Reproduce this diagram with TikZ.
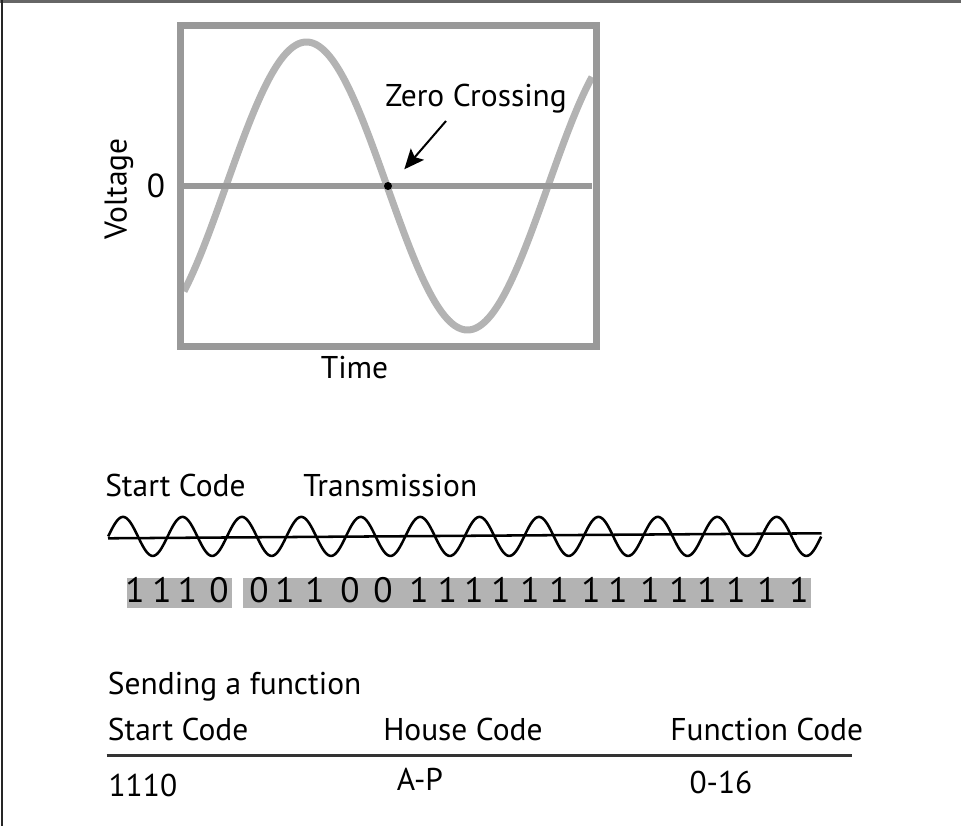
\documentclass[tikz,border=0pt]{standalone}
\usepackage{fontspec}
\setmainfont{PT Sans}
\usetikzlibrary{arrows.meta}
\definecolor{framegray}{HTML}{999999}
\definecolor{wavegray}{HTML}{B3B3B3}
\definecolor{bitgray}{HTML}{B3B3B3}
\tikzset{
  lbl/.style={inner sep=0pt, font=\fontsize{23.6}{28}\selectfont},
  bit/.style={inner sep=0pt, anchor=base, font=\fontsize{26.5}{30}\selectfont},
}
\begin{document}
\begin{tikzpicture}[x=0.75pt,y=-0.75pt]
\useasboundingbox (0,0) rectangle (961,826);
% outer border (top and left)
\draw[line width=1.6pt, color=black!60] (0,1.5) -- (961,1.5);
\draw[line width=1.8pt, color=black!85] (2.2,0) -- (2.2,826);

% ---- plot ----
\draw[line width=5.25pt, color=wavegray, line cap=butt]
  plot[domain=184:592, samples=200, smooth] (\x,{186-144*sin((\x-226)*1.118012)});
\draw[line width=4.5pt, color=framegray] (184,186) -- (592,186);
\draw[line width=5.6pt, color=framegray] (180.5,25.5) rectangle (596.3,346.3);
\node[circle, fill=black, inner sep=0pt, minimum size=6pt] (zc) at (388,186) {};
\coordinate (arrstart) at (446,121);
\coordinate (arrtip) at (404.3,169.3);
\draw[line width=1.5pt, -{Stealth[length=15pt,width=13pt,inset=3pt]}] (arrstart) -- (arrtip);
\node[lbl, anchor=base west] (zct) at (385,106.7) {Zero Crossing};
\node[lbl, anchor=base] (time) at (354.5,378) {Time};
\node[lbl, anchor=center, font=\fontsize{25}{28}\selectfont] (zero) at (156,185.5) {0};
\node[lbl, anchor=center, rotate=90] (volt) at (119,189) {Voltage};

% ---- transmission ----
\node[lbl, anchor=base west] (sc1) at (105,496.7) {Start Code};
\node[lbl, anchor=base west] (tr) at (303,496.7) {Transmission};
\draw[line width=1.9pt] plot[domain=108.2:821.2, samples=600, smooth] (\x,{536.4-19.5*sin((\x-108.2)*6.058566)});
\coordinate (lineL) at (108,538.3);
\coordinate (lineR) at (821.7,533.3);
\draw[line width=1.9pt] (lineL) -- (lineR);
\fill[bitgray] (126.7,578.3) rectangle (232.3,607.7);
\fill[bitgray] (242.7,578.3) rectangle (811,607.7);
\foreach \px/\d [count=\i] in {135/1,162/1,187.5/1,219/0,259/0,285/1,315/1,350/0,383/0,419/1,447.5/1,474/1,501/1,530/1,559/1,591/1,618/1,650/1,679/1,707/1,736/1,767/1,799/1}
  \node[bit] (b\i) at (\px,602.7) {\d};

% ---- table ----
\node[lbl, anchor=base west] (send) at (107.7,694.3) {Sending a function};
\node[lbl, anchor=base west] (hsc) at (107.7,740) {Start Code};
\node[lbl, anchor=base west] (hhc) at (383,740) {House Code};
\node[lbl, anchor=base west] (hfc) at (670,740) {Function Code};
\coordinate (tl) at (106.7,755.7);
\coordinate (tr2) at (851.7,755.7);
\draw[line width=1.9pt, color=black!80] (tl) -- (tr2);
\node[lbl, anchor=base west] (v1) at (108.3,796.7) {1110};
\node[lbl, anchor=base west] (v2) at (396.7,790) {A-P};
\node[lbl, anchor=base west] (v3) at (689.3,793.3) {0-16};
\end{tikzpicture}
\end{document}
